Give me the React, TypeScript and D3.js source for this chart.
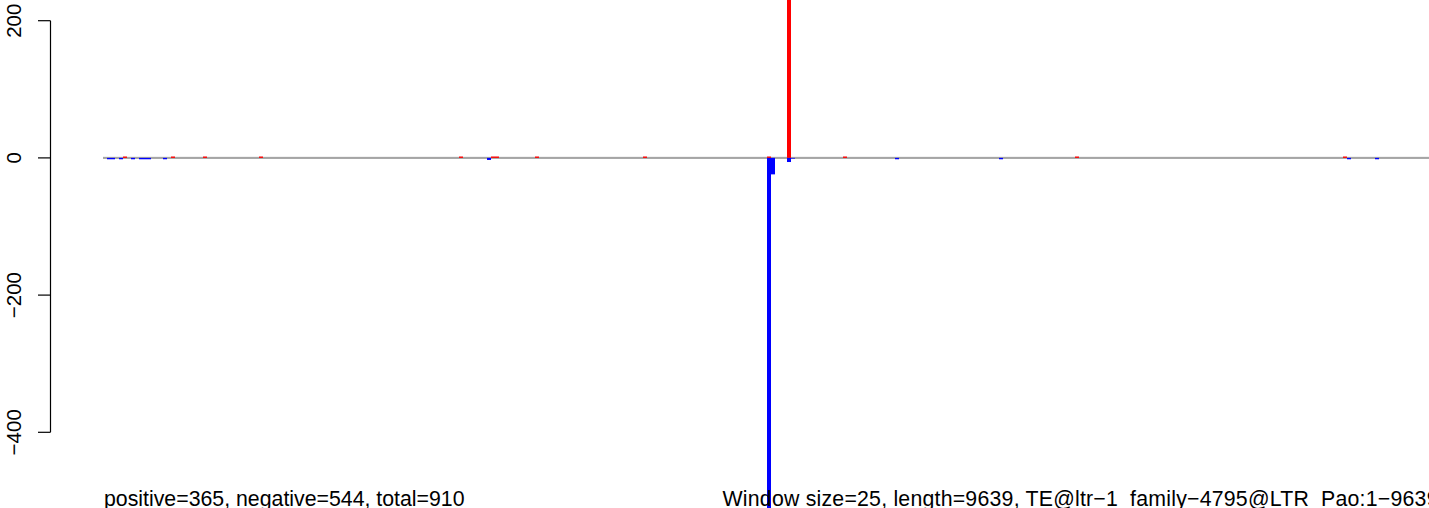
import React from "react";
import * as d3 from "d3";

const WIDTH = 1429;
const HEIGHT = 508;
const SEQ_LENGTH = 9639;
const WINDOW = 25;

// window start (bp) and signal for positive-strand windows
const posStarts = [125, 425, 625, 975, 2225, 2425, 2450, 2700, 3375, 4150, 4275, 4625, 6075, 7750];
const posValues = [2, 2, 2, 2, 2, 2, 2, 2, 2, 2, 320, 2, 2, 2];

// window start (bp) and signal for negative-strand windows
const negStarts = [25, 50, 100, 175, 225, 250, 275, 375, 2400, 4150, 4175, 4275, 4300, 4950, 5600, 7775, 7950];
const negValues = [-2, -2, -2, -2, -2, -2, -2, -2, -3, -620, -24, -6, -1, -2, -2, -2, -2];

const yTicks = [-400, -200, 0, 200];
const leftTitle = "positive=365, negative=544, total=910";
const rightTitle = "Window size=25, length=9639, TE@ltr\u22121_family\u22124795@LTR_Pao:1\u22129639";

export default function App() {
  const x = d3.scaleLinear().domain([0, SEQ_LENGTH]).range([103, 103 + SEQ_LENGTH * 0.16]);
  const y = d3.scaleLinear().domain([-400, 200]).range([432.3, 20.7]);
  const y0 = y(0);
  const bw = x(WINDOW) - x(0);
  const axisX = 50.5;

  return (
    <svg
      width={WIDTH}
      height={HEIGHT}
      style={{ position: "absolute", left: 0, top: 0, background: "#fff" }}
      fontFamily="'Liberation Sans', Arial, Helvetica, sans-serif"
    >
      <defs>
        <clipPath id="plotclip">
          <rect x={0} y={0} width={WIDTH} height={HEIGHT} />
        </clipPath>
      </defs>
      {/* zero line */}
      <line x1={x(0)} x2={x(SEQ_LENGTH)} y1={y0 - 0.6} y2={y0 - 0.6} stroke="#bdbdbd" strokeWidth={1} />
      <line x1={x(0)} x2={x(SEQ_LENGTH)} y1={y0 + 0.2} y2={y0 + 0.2} stroke="#707070" strokeWidth={1} />
      <g clipPath="url(#plotclip)">
        {posStarts.map((s, i) => (
          <rect
            key={"p" + i}
            x={x(s)}
            width={bw}
            y={y(posValues[i])}
            height={y0 - y(posValues[i])}
            fill="#ff0000"
          />
        ))}
        {negStarts.map((s, i) => (
          <rect
            key={"n" + i}
            x={x(s)}
            width={bw}
            y={y0}
            height={y(negValues[i]) - y0}
            fill="#0000ff"
          />
        ))}
      </g>
      {/* y axis */}
      <line x1={axisX} x2={axisX} y1={y(200)} y2={y(-400)} stroke="#000" strokeWidth={1.2} />
      {yTicks.map((t) => (
        <g key={t}>
          <line x1={axisX - 12.5} x2={axisX} y1={y(t)} y2={y(t)} stroke="#000" strokeWidth={1.2} />
          <text
            transform={`translate(20.5,${y(t)}) rotate(-90)`}
            textAnchor="middle"
            fontSize={20.5}
            fill="#000"
          >
            {t < 0 ? "\u2212" + Math.abs(t) : String(t)}
          </text>
        </g>
      ))}
      {/* bottom titles */}
      <text x={104} y={506} fontSize={21.3} fill="#000">
        {leftTitle}
      </text>
      <text x={722.5} y={506} fontSize={21.3} fill="#000" textLength={716} lengthAdjust="spacing">
        {rightTitle}
      </text>
    </svg>
  );
}
